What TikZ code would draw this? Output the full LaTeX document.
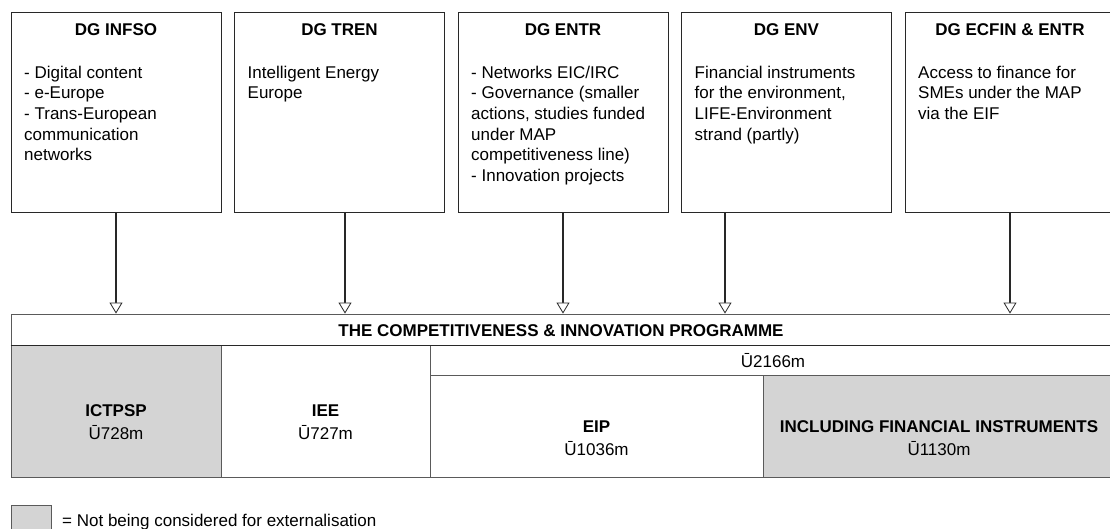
\documentclass[tikz,border=0pt]{standalone}
\usepackage{fontspec}
\setmainfont{Liberation Sans}
\usetikzlibrary{arrows.meta}
\definecolor{shade}{RGB}{212,212,212}
\definecolor{edge}{RGB}{40,40,40}
\definecolor{rule}{RGB}{90,90,90}
\tikzset{
  txt/.style={font=\fontsize{17}{20.7}\selectfont, inner sep=0pt},
  head/.style={txt, font=\fontsize{17}{20.7}\selectfont\bfseries, anchor=base},
  body/.style={txt, anchor=north west, align=left},
  dgbox/.style={draw=edge, line width=0.8pt, minimum width=210pt, minimum height=200pt, inner sep=0pt},
  cell/.style={draw=rule, line width=0.9pt, inner sep=0pt},
  grey/.style={fill=shade},
  feed/.style={draw=edge, line width=1.4pt,
    -{Triangle[width=13pt, length=11pt, fill=white, line width=0.8pt]}},
}
\begin{document}
\begin{tikzpicture}[x=1pt, y=-1pt]
\useasboundingbox (0,0) rectangle (1110,529);
\clip (0,0) rectangle (1110,529);
\fill[white] (0,0) rectangle (1110,529);

% directorate boxes
\node[dgbox] (b1) at (116,112) {};
\node[dgbox] (b2) at (339.5,112) {};
\node[dgbox] (b3) at (563,112) {};
\node[dgbox] (b4) at (786.5,112) {};
\node[dgbox] (b5) at (1010,112) {};

\node[head] (h1) at (116,36) {DG INFSO};
\node[head] (h2) at (339.5,36) {DG TREN};
\node[head] (h3) at (563,36) {DG ENTR};
\node[head] (h4) at (786.5,36) {DG ENV};
\node[head] (h5) at (1010,36) {DG ECFIN \& ENTR};

\node[body] (t1) at (24,63.5) {\strut- Digital content\\- e-Europe\\- Trans-European\\communication\\networks};
\node[body] (t2) at (247.5,63.5) {\strut Intelligent Energy\\Europe};
\node[body] (t3) at (471,63.5) {\strut- Networks EIC/IRC\\- Governance (smaller\\actions, studies funded\\under MAP\\competitiveness line)\\- Innovation projects};
\node[body] (t4) at (694.5,63.5) {\strut Financial instruments\\for the environment,\\LIFE-Environment\\strand (partly)};
\node[body] (t5) at (918,63.5) {\strut Access to finance for\\SMEs under the MAP\\via the EIF};

% programme table
\node[cell, minimum width=1105pt, minimum height=31pt] (hdr) at (563.5,329.5) {};
\node[cell, grey, minimum width=210pt, minimum height=132pt] (c1) at (116,411) {};
\node[cell, minimum width=209pt, minimum height=132pt] (c2) at (325.5,411) {};
\node[cell, minimum width=686pt, minimum height=30pt] (sub) at (773,360) {};
\node[cell, minimum width=333pt, minimum height=102pt] (c3) at (596.5,426) {};
\node[cell, grey, minimum width=353pt, minimum height=102pt] (c4) at (939.5,426) {};
\draw[edge, line width=1.4pt] (hdr.south west) -- (hdr.south east);

\node[head] (title) at (561,336) {THE COMPETITIVENESS \& INNOVATION PROGRAMME};
\node[head] (l1) at (116,416) {ICTPSP};
\node[txt, anchor=base] (a1) at (116,439) {Ū728m};
\node[head] (l2) at (325.5,416) {IEE};
\node[txt, anchor=base] (a2) at (325.5,439) {Ū727m};
\node[txt, anchor=base] (asub) at (773,367) {Ū2166m};
\node[head] (l3) at (596.5,432) {EIP};
\node[txt, anchor=base] (a3) at (596.5,455) {Ū1036m};
\node[head] (l4) at (939,432) {INCLUDING FINANCIAL INSTRUMENTS};
\node[txt, anchor=base] (a4) at (939,455) {Ū1130m};

% funding flows
\coordinate (s2) at ([xshift=5.5pt]b2.south);
\coordinate (s4) at ([xshift=-61.5pt]b4.south);
\draw[feed] (b1.south) -- (b1.south |- hdr.north);
\draw[feed] (s2) -- (s2 |- hdr.north);
\draw[feed] (b3.south) -- (b3.south |- hdr.north);
\draw[feed] (s4) -- (s4 |- hdr.north);
\draw[feed] (b5.south) -- (b5.south |- hdr.north);

% legend
\node[cell, grey, minimum width=40pt, minimum height=30pt] (key) at (31,520) {};
\node[txt, anchor=base west] (keytext) at (62,526) {= Not being considered for externalisation};
\end{tikzpicture}
\end{document}
